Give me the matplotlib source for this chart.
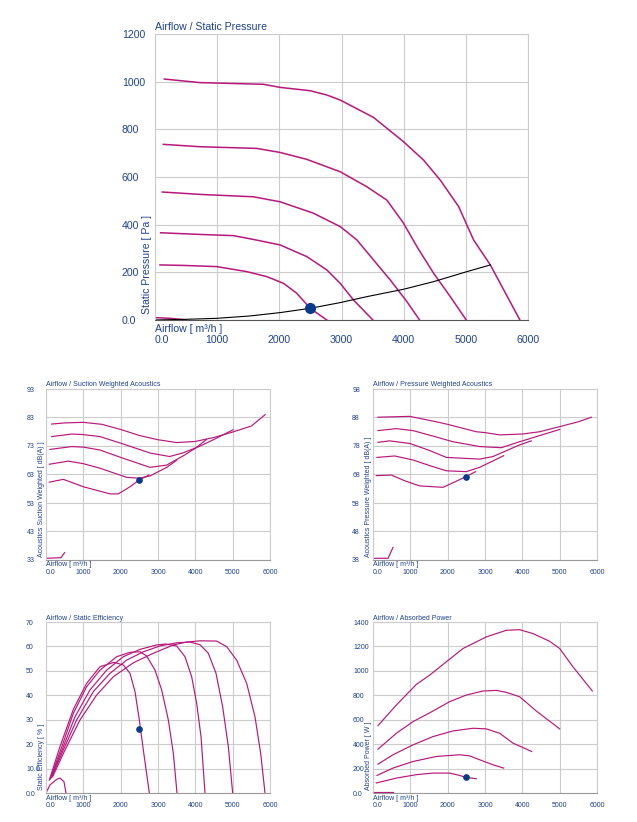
import matplotlib
matplotlib.use('Agg')
from matplotlib import pyplot as plt

plt.rcParams['font.family'] = ['Liberation Sans', 'DejaVu Sans']

BLUE = '#1d4193'
CURVE = '#b8177b'
DOT = '#0a3a8c'
GRID = '#cccccc'
W, H = 637, 822

airflow_ticks = [0, 1000, 2000, 3000, 4000, 5000, 6000]
airflow_labels = ['0.0', '1000', '2000', '3000', '4000', '5000', '6000']
duty_flow = 2500

# Airflow / Static Pressure
sp_x = [
    [150, 725, 1744, 2012, 2496, 2764, 2979, 3515, 3998, 4320, 4589, 4884, 5125, 5394, 5870],
    [134, 725, 1637, 2012, 2442, 2979, 3408, 3730, 3998, 4213, 4482, 4750, 5007],
    [118, 725, 1583, 2012, 2549, 2979, 3247, 3515, 3784, 4052, 4256],
    [91, 725, 1261, 1583, 2012, 2442, 2764, 2979, 3193, 3505],
    [80, 456, 993, 1476, 1798, 2066, 2281, 2496, 2764],
    [0, 242, 510],
]
sp_y = [
    [1011, 996, 989, 976, 962, 944, 923, 850, 748, 671, 587, 476, 336, 231, 0],
    [737, 727, 720, 703, 674, 622, 559, 503, 406, 308, 196, 98, 0],
    [537, 527, 517, 496, 448, 392, 336, 252, 168, 77, 0],
    [366, 359, 354, 338, 315, 266, 210, 154, 84, 0],
    [231, 229, 224, 203, 182, 154, 112, 49, 0],
    [10, 7, 0],
]
system_x = [0, 510, 993, 1530, 2012, 2496, 2979, 3408, 3998, 4482, 5018, 5394]
system_y = [0, 3, 7, 17, 31, 49, 73, 98, 129, 161, 203, 231]
sp_duty = 50
sp_ticks = [0, 200, 400, 600, 800, 1000, 1200]
sp_labels = ['0.0', '200', '400', '600', '800', '1000', '1200']

# Airflow / Suction Weighted Acoustics
sw_x = [
    [150, 500, 1000, 1500, 2000, 2500, 3000, 3500, 4000, 4500, 5000, 5500, 5870],
    [150, 690, 1000, 1446, 2000, 2339, 2800, 3312, 3670, 4116, 4562, 5009],
    [107, 690, 1000, 1446, 2000, 2339, 2786, 3232, 3670, 4000, 4300],
    [89, 598, 1000, 1446, 2161, 2500, 2786, 3232, 3500],
    [89, 464, 1000, 1714, 1937, 2250, 2500, 2760],
    [0, 400, 500],
]
sw_y = [
    [80.7, 81.1, 81.3, 80.6, 78.8, 76.7, 75.2, 74.2, 74.6, 76.0, 77.9, 80.0, 84.0],
    [76.3, 77.2, 77.0, 76.3, 74.0, 72.5, 70.5, 69.3, 70.6, 72.9, 75.7, 78.7],
    [71.8, 72.8, 72.6, 71.6, 69.0, 67.5, 65.5, 66.3, 69.5, 72.2, 75.3],
    [66.6, 67.7, 66.8, 65.2, 62.0, 61.7, 62.5, 65.5, 68.0],
    [60.3, 61.3, 58.7, 56.2, 56.2, 58.7, 61.1, 62.8],
    [33.6, 33.8, 35.6],
]
sw_duty = 61.1
sw_ticks = [33, 43, 53, 63, 73, 83, 93]

# Airflow / Pressure Weighted Acoustics
pw_x = [
    [134, 982, 1696, 2000, 2768, 3000, 3393, 4000, 4464, 5000, 5500, 5848],
    [134, 625, 1071, 1600, 2143, 2857, 3437, 3929, 4500, 5000],
    [134, 446, 982, 1500, 1964, 2857, 3214, 3929, 4241],
    [107, 580, 1071, 1500, 1964, 2500, 2857, 3500],
    [89, 491, 850, 1250, 1875, 2143, 2482, 2750],
    [0, 402, 536],
]
pw_y = [
    [88.1, 88.4, 86.5, 85.6, 83.0, 82.7, 81.9, 82.2, 83.0, 84.8, 86.5, 88.1],
    [83.4, 84.1, 83.4, 81.5, 79.5, 77.8, 77.4, 79.5, 81.8, 83.8],
    [79.3, 79.8, 78.9, 76.5, 74.0, 73.4, 74.3, 78.4, 79.8],
    [74.0, 74.5, 73.1, 71.2, 69.3, 69.0, 70.5, 74.6],
    [67.6, 67.8, 65.8, 64.0, 63.5, 65.1, 67.2, 69.0],
    [38.6, 38.6, 42.4],
]
pw_duty = 67.2
pw_ticks = [38, 48, 58, 68, 78, 88, 98]

# Airflow / Static Efficiency
ef_x = [
    [179, 509, 911, 1357, 1804, 2339, 2875, 3411, 3768, 4125, 4571, 4839, 5107, 5375, 5598, 5750, 5866],
    [152, 464, 821, 1268, 1714, 2161, 2607, 3054, 3500, 3857, 4125, 4348, 4554, 4732, 4884, 5000],
    [125, 429, 777, 1179, 1625, 2071, 2518, 2964, 3200, 3500, 3723, 3902, 4036, 4152, 4259],
    [107, 393, 732, 1089, 1446, 1893, 2250, 2518, 2696, 2920, 3098, 3277, 3411, 3509],
    [89, 375, 732, 1089, 1446, 1821, 2071, 2250, 2384, 2500, 2607, 2768],
    [0, 107, 286, 380, 482, 536],
]
ef_y = [
    [6.7, 17.6, 29.9, 40.1, 47.6, 53.3, 57.2, 60.6, 61.8, 62.3, 62.2, 59.9, 54.4, 44.9, 31.2, 16.2, 0],
    [6.4, 17.6, 29.9, 41.5, 49.0, 54.4, 57.8, 60.2, 61.5, 61.8, 60.7, 57.2, 49.0, 35.3, 19.0, 0],
    [6.0, 17.6, 31.2, 42.2, 50.3, 55.8, 58.8, 60.6, 61.0, 60.2, 55.8, 47.6, 36.7, 23.1, 0],
    [5.6, 17.6, 32.6, 43.5, 50.3, 55.8, 57.6, 57.8, 56.1, 50.3, 42.2, 29.9, 16.2, 0],
    [5.3, 19.0, 34.2, 44.9, 51.7, 53.5, 52.4, 49.0, 41.5, 29.9, 17.6, 0],
    [0, 3.3, 5.6, 6.1, 4.6, 0],
]
ef_duty = 26.3
ef_ticks = [0, 10, 20, 30, 40, 50, 60, 70]
ef_labels = ['0.0', '10.0', '20', '30', '40', '50', '60', '70']

# Airflow / Absorbed Power
pw_abs_x = [
    [134, 625, 1161, 1518, 1964, 2411, 3036, 3571, 3929, 4286, 4732, 5000, 5357, 5875],
    [134, 625, 1071, 1607, 2054, 2500, 2946, 3304, 3571, 3929, 4375, 5000],
    [134, 536, 1071, 1607, 2143, 2679, 3036, 3393, 3750, 4250],
    [107, 536, 1071, 1696, 2321, 2589, 2857, 3214, 3500],
    [89, 625, 1161, 1607, 2054, 2321, 2482, 2768],
    [0, 536],
]
pw_abs_y = [
    [552, 720, 889, 965, 1074, 1183, 1278, 1332, 1337, 1305, 1242, 1183, 1033, 835],
    [359, 489, 584, 671, 748, 802, 835, 840, 824, 788, 671, 525],
    [236, 313, 394, 462, 508, 530, 525, 489, 408, 340],
    [144, 204, 258, 299, 313, 304, 272, 231, 204],
    [82, 122, 150, 163, 163, 144, 128, 117],
    [8, 8],
]
ab_duty = 130
ab_ticks = [0, 200, 400, 600, 800, 1000, 1200, 1400]
ab_labels = ['0.0', '200', '400', '600', '800', '1000', '1200', '1400']


def make_axes(fig, left, top, right, bottom):
    return fig.add_axes([left / W, 1 - bottom / H, (right - left) / W, (bottom - top) / H])


def style_panel(ax, title, ylabel, yticks, ylabels, fs, ypad, xpad, xl_off, yl_off, t_off, base_col):
    ax.set_xlim(0, 6000)
    ax.set_ylim(yticks[0], yticks[-1])
    ax.set_xticks(airflow_ticks)
    ax.set_xticklabels(airflow_labels)
    ax.set_yticks(yticks)
    ax.set_yticklabels(ylabels)
    ax.tick_params(length=0, labelsize=fs, labelcolor=BLUE)
    ax.tick_params(axis='y', pad=ypad)
    ax.tick_params(axis='x', pad=xpad)
    for lab in ax.get_yticklabels():
        lab.set_horizontalalignment('left')
    ax.get_xticklabels()[0].set_horizontalalignment('left')
    ax.grid(True, color=GRID, lw=0.8)
    ax.set_axisbelow(True)
    for s in ax.spines.values():
        s.set_color(GRID)
        s.set_linewidth(0.8)
    ax.spines['bottom'].set_color(base_col)
    ax.annotate(title, xy=(0, 1), xycoords='axes fraction', xytext=(0, t_off),
                textcoords='offset pixels', ha='left', va='center', fontsize=fs, color=BLUE)
    ax.annotate('Airflow [ m³/h ]', xy=(0, 0), xycoords='axes fraction', xytext=(0, -xl_off),
                textcoords='offset pixels', ha='left', va='center', fontsize=fs, color=BLUE)
    ax.annotate(ylabel, xy=(0, 0), xycoords='axes fraction', xytext=(-yl_off[0], yl_off[1]),
                textcoords='offset pixels', ha='center', va='bottom', rotation=90,
                fontsize=fs, color=BLUE)


fig = plt.figure(figsize=(W / 100, H / 100), dpi=100)

# big chart
ax = make_axes(fig, 155, 34, 528, 320)
for xs, ys in zip(sp_x, sp_y):
    ax.plot(xs, ys, color=CURVE, lw=1.1)
ax.plot(system_x, system_y, color='black', lw=0.8)
ax.plot(duty_flow, sp_duty, 'o', color=DOT, ms=7)
style_panel(ax, 'Airflow / Static Pressure', 'Static Pressure [ Pa ]', sp_ticks, sp_labels,
            7.6, 23.8, 10.5, 9, (8, 6), 7, '#555555')

small = [
    ((46, 389, 270, 560), sw_x, sw_y, sw_duty, 'Airflow / Suction Weighted Acoustics',
     'Acoustics Suction Weighted [ dB(A) ]', sw_ticks, [str(t) for t in sw_ticks], 13.7, 6.2),
    ((373, 389, 597, 560), pw_x, pw_y, pw_duty, 'Airflow / Pressure Weighted Acoustics',
     'Acoustics Pressure Weighted [ dB(A) ]', pw_ticks, [str(t) for t in pw_ticks], 15.0, 6.2),
    ((46, 622, 270, 793), ef_x, ef_y, ef_duty, 'Airflow / Static Efficiency',
     'Static Efficiency [ % ]', ef_ticks, ef_labels, 14.4, 6.8),
    ((373, 622, 597, 793), pw_abs_x, pw_abs_y, ab_duty, 'Airflow / Absorbed Power',
     'Absorbed Power [ W ]', ab_ticks, ab_labels, 14.4, 6.8),
]
for box, xs_all, ys_all, duty, title, ylabel, yt, yl, ypad, xpad in small:
    ax = make_axes(fig, *box)
    for xs, ys in zip(xs_all, ys_all):
        ax.plot(xs, ys, color=CURVE, lw=0.85)
    ax.plot(duty_flow, duty, 'o', color=DOT, ms=3.8)
    style_panel(ax, title, ylabel, yt, yl, 5, ypad, xpad, 5, (4.5, 3), 4, '#999999')

plt.savefig('out.png', dpi=100)
